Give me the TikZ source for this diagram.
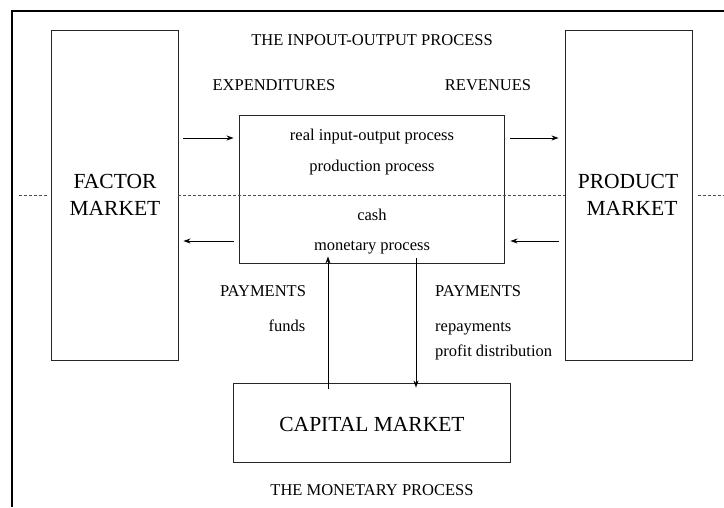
\documentclass[tikz,border=0pt]{standalone}
\usepackage{fontspec}
\setmainfont{Liberation Serif}
\usetikzlibrary{arrows.meta}
\begin{document}
\begin{tikzpicture}[x=1pt,y=-1pt,
  box/.style={draw=black!85, line width=0.9pt, rectangle, inner sep=0pt},
  big/.style={font=\fontsize{21.5}{27}\selectfont, inner sep=0pt, anchor=base},
  small/.style={font=\fontsize{16.5}{19}\selectfont, inner sep=0pt, anchor=base},
  arr/.style={draw=black, line width=0.8pt, -{Stealth[length=7pt,width=5pt]}},
  dline/.style={draw=black!70, line width=0.5pt, dash pattern=on 3pt off 2pt}]
\useasboundingbox (0,0) rectangle (724,507);
% outer frame
\coordinate (ftl) at (12,11);
\coordinate (fbl) at (12,507);
\coordinate (ftr) at (724,11);
\draw[line width=2pt] (fbl) -- (ftl) -- (ftr);
% boxes
\node[box, minimum width=127pt, minimum height=330pt] (factor) at (114.5,195) {};
\node[big] (f1) at (115,188) {FACTOR};
\node[big] (f2) at (115,215) {MARKET};
\node[box, minimum width=127pt, minimum height=330pt] (product) at (628.5,195) {};
\node[big] (g1) at (628,188) {PRODUCT};
\node[big] (g2) at (632,215) {MARKET};
\node[box, minimum width=265pt, minimum height=148pt] (io) at (371.5,189) {};
\node[box, minimum width=277pt, minimum height=79pt] (cap) at (371.5,422.5) {};
\node[big] (capt) at (372,431.5) {CAPITAL MARKET};
% texts
\node[small] (t1) at (372,45) {THE INPOUT-OUTPUT PROCESS};
\node[small] (t2) at (274,90) {EXPENDITURES};
\node[small] (t3) at (488,90) {REVENUES};
\node[small] (r1) at (372,140.5) {real input-output process};
\node[small] (r2) at (372,171.5) {production process};
\node[small] (r3) at (372,220) {cash};
\node[small] (r4) at (372,250.5) {monetary process};
\node[small] (p1) at (263,296.5) {PAYMENTS};
\node[small] (p2) at (287,331.5) {funds};
\node[small, anchor=base west] (p3) at (435,296.5) {PAYMENTS};
\node[small, anchor=base west] (p4) at (435,331.5) {repayments};
\node[small, anchor=base west] (p5) at (435,356.5) {profit distribution};
\node[small] (t4) at (372,495) {THE MONETARY PROCESS};
% rows
\coordinate (rowA) at (0,138);
\coordinate (rowB) at (0,241);
\coordinate (colU) at (328,0);
\coordinate (colD) at (416,0);
% horizontal arrows
\draw[arr] ([xshift=5pt]factor.east |- rowA) -- ([xshift=-5pt]io.west |- rowA);
\draw[arr] ([xshift=6pt]io.east |- rowA) -- ([xshift=-6pt]product.west |- rowA);
\draw[arr] ([xshift=-5pt]io.west |- rowB) -- ([xshift=5pt]factor.east |- rowB);
\draw[arr] ([xshift=-6pt]product.west |- rowB) -- ([xshift=6pt]io.east |- rowB);
% vertical arrows
\draw[arr] ([yshift=-6pt]colU |- cap.north) -- ([yshift=7pt]colU |- io.south);
\draw[arr] ([yshift=5pt]colD |- io.south) -- ([yshift=-5pt]colD |- cap.north);
% dashed line
\coordinate (dl) at (19,195);
\coordinate (dr) at (724,195);
\draw[dline] (dl) -- ([xshift=-4pt]factor.west);
\draw[dline] (factor.east) -- (product.west);
\draw[dline] ([xshift=6pt]product.east) -- (dr);
\end{tikzpicture}
\end{document}
